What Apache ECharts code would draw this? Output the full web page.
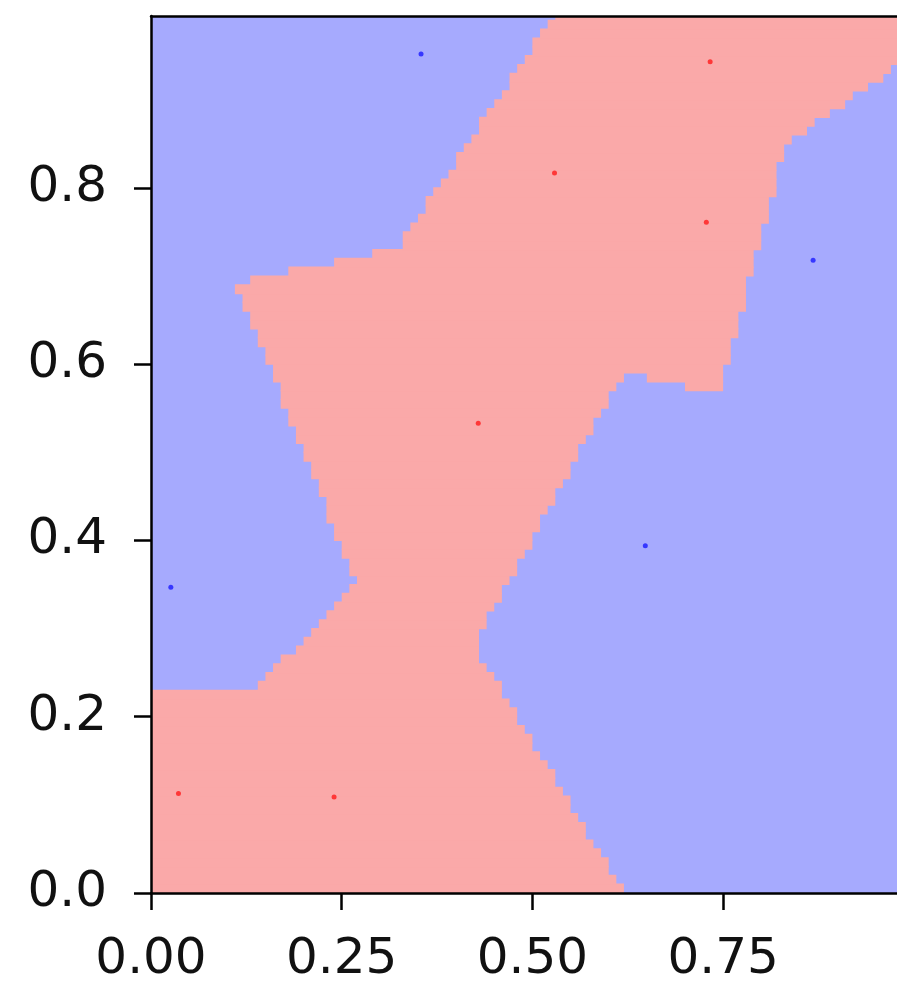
<!DOCTYPE html>
<html>
<head>
<meta charset="utf-8">
<script src="https://cdn.jsdelivr.net/npm/echarts@6/dist/echarts.min.js"></script>
<style>
html,body{margin:0;padding:0;background:#fff;}
#chart{width:897px;height:983px;}
</style>
</head>
<body>
<div id="chart"></div>
<script>
// Training points
var redX = [0.036, 0.240, 0.429, 0.529, 0.728, 0.733];
var redY = [0.113, 0.109, 0.533, 0.817, 0.761, 0.943];
var blueX = [0.026, 0.648, 0.354, 0.868];
var blueY = [0.347, 0.394, 0.952, 0.718];

// Tick labels
var xTickValues = [0, 0.25, 0.5, 0.75];
var xTickLabels = ['0.00', '0.25', '0.50', '0.75'];
var yTickValues = [0, 0.2, 0.4, 0.6, 0.8];
var yTickLabels = ['0.0', '0.2', '0.4', '0.6', '0.8'];

// Mesh of the 1-nearest-neighbour decision surface
var meshStep = 0.01;
var meshCount = 100;

var redPts = redX.map(function (x, i) { return [x, redY[i]]; });
var bluePts = blueX.map(function (x, i) { return [x, blueY[i]]; });

function classify(x, y) {
  var best = Infinity, cls = 0;
  redPts.forEach(function (p) {
    var d = (p[0] - x) * (p[0] - x) + (p[1] - y) * (p[1] - y);
    if (d < best) { best = d; cls = 1; }
  });
  bluePts.forEach(function (p) {
    var d = (p[0] - x) * (p[0] - x) + (p[1] - y) * (p[1] - y);
    if (d < best) { best = d; cls = 0; }
  });
  return cls;
}

// red runs per mesh row: [x0, x1, y0, y1]
var redRuns = [];
for (var j = 0; j < meshCount; j++) {
  var y0 = j * meshStep, y1 = (j + 1) * meshStep;
  var start = -1;
  for (var i = 0; i <= meshCount; i++) {
    var isRed = i < meshCount && classify(i * meshStep + meshStep / 2, y0 + meshStep / 2) === 1;
    if (isRed && start < 0) start = i;
    if (!isRed && start >= 0) {
      redRuns.push([start * meshStep, i * meshStep, y0, y1]);
      start = -1;
    }
  }
}

var chart = echarts.init(document.getElementById('chart'), null, {renderer: 'canvas'});
var fontFamily = 'DejaVu Sans';
var textColor = '#111';

var option = {
  animation: false,
  grid: {
    left: 151, top: 16, width: 759, height: 877,
    outerBoundsMode: 'none', containLabel: false,
    show: true, backgroundColor: '#A6AAFE', borderWidth: 0
  },
  xAxis: [{
    type: 'value', min: 0, max: 0.995, position: 'bottom', z: 10,
    splitLine: {show: false},
    axisLine: {show: true, onZero: false, lineStyle: {color: '#000', width: 2.5}},
    axisTick: {show: true, length: 17, customValues: xTickValues, lineStyle: {color: '#000', width: 2.5}},
    axisLabel: {
      customValues: xTickValues, margin: 42,
      fontFamily: fontFamily, fontSize: 50, color: textColor,
      formatter: function (v) {
        var k = xTickValues.findIndex(function (t) { return Math.abs(t - v) < 1e-6; });
        return k >= 0 ? xTickLabels[k] : '';
      }
    }
  }, {
    type: 'value', min: 0, max: 0.995, position: 'top', z: 10,
    splitLine: {show: false},
    axisLine: {show: true, onZero: false, lineStyle: {color: '#000', width: 2.5}},
    axisTick: {show: false}, axisLabel: {show: false}
  }],
  yAxis: {
    type: 'value', min: 0, max: 0.995, z: 10,
    splitLine: {show: false},
    axisLine: {show: true, onZero: false, lineStyle: {color: '#000', width: 2.5}},
    axisTick: {show: true, length: 17, customValues: yTickValues, lineStyle: {color: '#000', width: 2.5}},
    axisLabel: {
      customValues: yTickValues, margin: 44,
      fontFamily: fontFamily, fontSize: 50, color: textColor,
      formatter: function (v) {
        var k = yTickValues.findIndex(function (t) { return Math.abs(t - v) < 1e-6; });
        return k >= 0 ? yTickLabels[k] : '';
      }
    }
  },
  series: [{
    type: 'custom',
    xAxisIndex: 0,
    data: redRuns,
    silent: true,
    renderItem: function (params, api) {
      var p0 = api.coord([api.value(0), api.value(3)]);
      var p1 = api.coord([api.value(1), api.value(2)]);
      var rect = echarts.graphic.clipRectByRect({
        x: p0[0], y: p0[1] - 0.6,
        width: p1[0] - p0[0], height: p1[1] - p0[1] + 1.2
      }, {
        x: params.coordSys.x, y: params.coordSys.y,
        width: params.coordSys.width, height: params.coordSys.height
      });
      if (!rect) return null;
      return {type: 'rect', shape: rect, style: {fill: '#FAA9A9'}};
    }
  }, {
    type: 'scatter', xAxisIndex: 0,
    data: redPts, symbol: 'circle', symbolSize: 5,
    itemStyle: {color: '#FF1A1A'}, z: 5, silent: true
  }, {
    type: 'scatter', xAxisIndex: 0,
    data: bluePts, symbol: 'circle', symbolSize: 5,
    itemStyle: {color: '#1A1AFF'}, z: 5, silent: true
  }]
};
chart.setOption(option);
</script>
</body>
</html>
